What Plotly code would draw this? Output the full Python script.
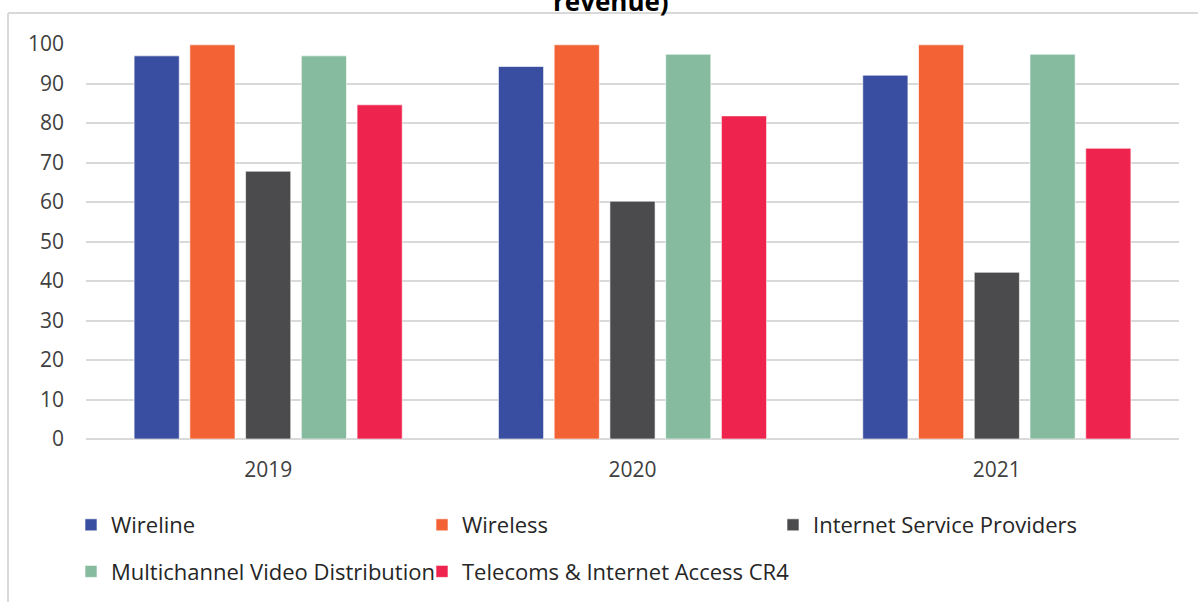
import plotly.graph_objects as go

years = ["2019", "2020", "2021"]
series_names = ["Wireline", "Wireless", "Internet Service Providers",
                "Multichannel Video Distribution", "Telecoms & Internet Access CR4"]
wireline = [97.0, 94.3, 92.1]
wireless = [99.8, 99.8, 99.8]
isp = [67.8, 60.2, 42.2]
mvd = [97.0, 97.4, 97.4]
cr4 = [84.6, 81.8, 73.6]
colors = ["#394EA0", "#F26235", "#4B4B4D", "#86BBA0", "#EE244F"]
title_text = "revenue)"

values = [wireline, wireless, isp, mvd, cr4]
legend_ids = ["legend", "legend2", "legend3", "legend", "legend2"]

W, H = 1198, 602
L, R, T, B = 86, 19, 44, 163
pw, ph = W - L - R, H - T - B

def px_x(p):
    return (p - L) / pw

def px_y(p):
    return (H - B - p) / ph

FONT = "'Open Sans', 'Noto Sans', sans-serif"

fig = go.Figure()
for i, (name, vals, col) in enumerate(zip(series_names, values, colors)):
    fig.add_trace(go.Bar(
        x=years, y=vals, name=name,
        marker=dict(color=col, line=dict(color="rgba(255,255,255,0.6)", width=1)),
        legend=legend_ids[i], legendgroup="g%d" % i,
    ))

legend_font = dict(family=FONT, size=22, color="#262626")
common_leg = dict(orientation="v", yanchor="top", xanchor="left", font=legend_font,
                  tracegroupgap=15, bgcolor="rgba(0,0,0,0)", itemwidth=30)

leg_top = 504
fig.update_layout(
    width=W, height=H,
    margin=dict(l=L, r=R, t=T, b=B, autoexpand=False),
    paper_bgcolor="white", plot_bgcolor="white",
    barmode="group", bargap=0.235, bargroupgap=0.19,
    font=dict(family=FONT, color="#404040"),
    xaxis=dict(showgrid=False, showline=False, zeroline=False,
               tickfont=dict(size=21, color="#404040"), ticks="",
               ticklabelstandoff=16),
    yaxis=dict(range=[0, 100], dtick=10, showgrid=True, gridcolor="#D9D9D9",
               gridwidth=2, zeroline=True, zerolinecolor="#D9D9D9", zerolinewidth=2,
               showline=False, tickfont=dict(size=21, color="#404040"), ticks="",
               ticklabelstandoff=21, fixedrange=True),
    legend=dict(x=px_x(71), y=px_y(leg_top), **common_leg),
    legend2=dict(x=px_x(422), y=px_y(leg_top), **common_leg),
    legend3=dict(x=px_x(773), y=px_y(leg_top), **common_leg),
    showlegend=True,
)

fig.add_annotation(text="<b>" + title_text + "</b>", xref="paper", yref="paper",
                   x=px_x(611), y=px_y(1), xanchor="center", yanchor="middle",
                   showarrow=False, font=dict(family=FONT, size=26, color="#000000"))

# chart frame
frame = dict(type="line", xref="paper", yref="paper", line=dict(color="#D9D9D9", width=2))
fig.add_shape(x0=px_x(8), x1=px_x(1240), y0=px_y(13), y1=px_y(13), **frame)
fig.add_shape(x0=px_x(8), x1=px_x(8), y0=px_y(13), y1=px_y(650), **frame)

fig.write_html("out.html")
